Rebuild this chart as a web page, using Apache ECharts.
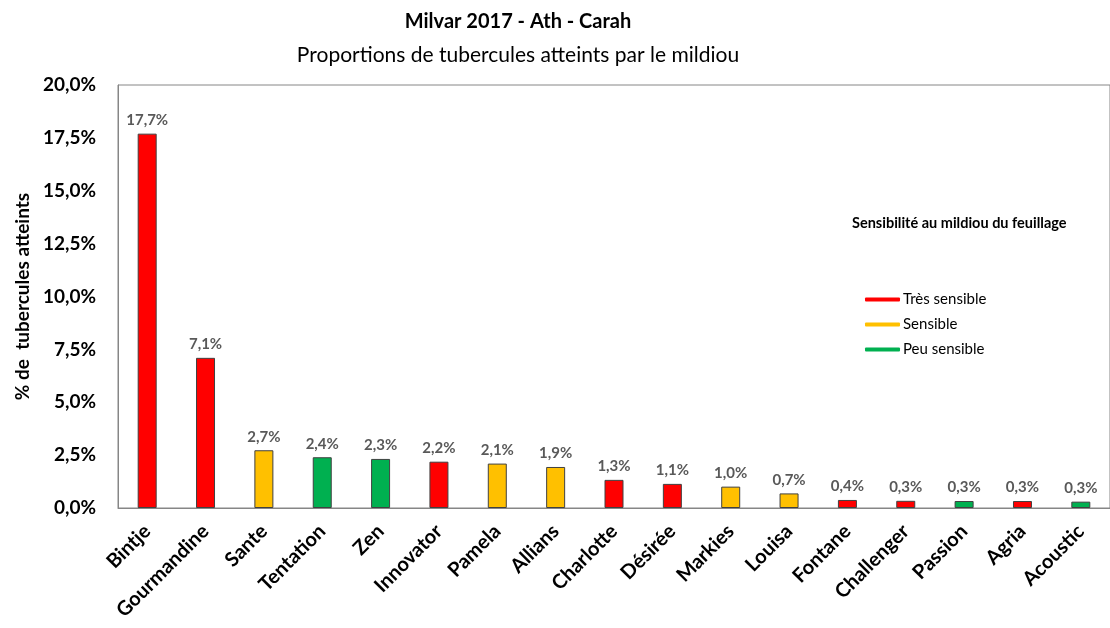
<!DOCTYPE html>
<html>
<head>
<meta charset="utf-8">
<script src="https://cdn.jsdelivr.net/npm/echarts@6/dist/echarts.min.js"></script>
<style>
html, body { margin: 0; padding: 0; background: #fff; }
#chart { width: 1110px; height: 628px; }
</style>
</head>
<body>
<div id="chart"></div>
<script>
// varietes, % tubercules atteints, sensibilite au mildiou du feuillage
var varieties = ['Bintje', 'Gourmandine', 'Sante', 'Tentation', 'Zen', 'Innovator', 'Pamela', 'Allians',
                 'Charlotte', 'Désirée', 'Markies', 'Louisa', 'Fontane', 'Challenger', 'Passion', 'Agria', 'Acoustic'];
var attacked = [17.7, 7.1, 2.73, 2.4, 2.32, 2.19, 2.1, 1.94, 1.33, 1.14, 1.01, 0.69, 0.38, 0.34, 0.33, 0.33, 0.3];
var sensitivity = ['Très sensible', 'Très sensible', 'Sensible', 'Peu sensible', 'Peu sensible', 'Très sensible',
                   'Sensible', 'Sensible', 'Très sensible', 'Très sensible', 'Sensible', 'Sensible',
                   'Très sensible', 'Très sensible', 'Peu sensible', 'Très sensible', 'Peu sensible'];
var groups = ['Très sensible', 'Sensible', 'Peu sensible'];
var groupColors = ['#FF0000', '#FFC000', '#00B050'];
var yTicks = [0, 2.5, 5, 7.5, 10, 12.5, 15, 17.5, 20];

var font = 'Lato, "Open Sans", sans-serif';
function pct(v) { return v.toFixed(1).replace('.', ',') + '%'; }

var myChart = echarts.init(document.getElementById('chart'));

var series = groups.map(function (g, gi) {
    return {
        name: g,
        type: 'bar',
        barWidth: 19,
        barGap: '-100%',
        data: attacked.map(function (v, i) { return sensitivity[i] === g ? v : '-'; }),
        itemStyle: { color: groupColors[gi], borderColor: '#404040', borderWidth: 1 },
        label: {
            show: true,
            position: 'top',
            distance: 6,
            fontFamily: font,
            fontWeight: 'bold',
            fontSize: 15,
            color: '#595959',
            formatter: function (p) { return pct(p.value); }
        }
    };
});

var option = {
    backgroundColor: '#fff',
    animation: false,
    graphic: [
        { type: 'text', x: 518, y: 22, style: { text: 'Milvar 2017 - Ath - Carah', font: 'bold 20px ' + font, fill: '#000', align: 'center', verticalAlign: 'middle' } },
        { type: 'text', x: 518, y: 55, style: { text: 'Proportions de tubercules atteints par le mildiou', font: '21px ' + font, fill: '#000', align: 'center', verticalAlign: 'middle' } },
        { type: 'text', x: 852, y: 223, style: { text: 'Sensibilité au mildiou du feuillage', font: 'bold 14.5px ' + font, fill: '#000', align: 'left', verticalAlign: 'middle' } }
    ],
    legend: {
        orient: 'vertical',
        left: 860,
        top: 286,
        data: groups,
        icon: 'roundRect',
        itemWidth: 35,
        itemHeight: 4,
        itemGap: 8,
        itemStyle: { borderWidth: 0 },
        textStyle: { fontFamily: font, fontSize: 15, color: '#000', lineHeight: 17, padding: [0, 0, 0, -2] }
    },
    grid: {
        left: 118,
        top: 85,
        width: 1001,
        height: 423,
        show: true,
        borderColor: '#868686',
        borderWidth: 1
    },
    xAxis: {
        type: 'category',
        data: varieties,
        axisLine: { lineStyle: { color: '#868686' } },
        axisTick: { show: false },
        axisLabel: {
            interval: 0,
            rotate: 45,
            margin: 20,
            fontFamily: font,
            fontWeight: 'bold',
            fontSize: 20,
            color: '#000'
        }
    },
    yAxis: {
        type: 'value',
        min: yTicks[0],
        max: yTicks[yTicks.length - 1],
        interval: yTicks[1] - yTicks[0],
        name: '% de  tubercules atteints',
        nameLocation: 'middle',
        nameGap: 86,
        nameTextStyle: { fontFamily: font, fontWeight: 'bold', fontSize: 19, color: '#000' },
        axisLine: { show: true, lineStyle: { color: '#868686' } },
        axisTick: { show: false },
        splitLine: { show: false },
        axisLabel: {
            margin: 22,
            fontFamily: font,
            fontWeight: 'bold',
            fontSize: 19,
            color: '#000',
            formatter: function (v) { return pct(v); }
        }
    },
    series: series
};

myChart.setOption(option);
</script>
</body>
</html>
